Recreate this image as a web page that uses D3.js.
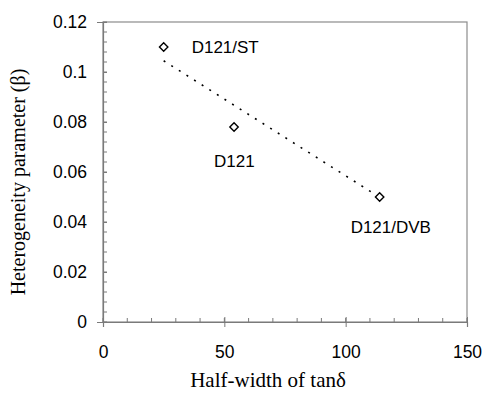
<!DOCTYPE html>
<html>
<head>
<meta charset="utf-8">
<script src="https://cdn.jsdelivr.net/npm/d3@7"></script>
<style>
  body { margin: 0; background: #fff; overflow: hidden; }
  svg { display: block; }
</style>
</head>
<body>
<div id="chart"></div>
<script>
const width = 484;
const height = 396;
const margin = {top: 22, right: 17, bottom: 74, left: 103};
const innerWidth = width - margin.left - margin.right;
const innerHeight = height - margin.top - margin.bottom;

// data
const samples = ["D121/ST", "D121", "D121/DVB"];
const halfWidth = [25, 54, 114];
const beta = [0.110, 0.078, 0.050];
const trendX = [25, 113];
const trendY = [0.1045, 0.0505];
const xTicks = [0, 50, 100, 150];
const yTicks = [0, 0.02, 0.04, 0.06, 0.08, 0.1, 0.12];

const svg = d3.select("#chart")
    .append("svg")
        .attr("width", width)
        .attr("height", height)
    .append("g")
        .attr("transform", "translate(" + margin.left + "," + margin.top + ")");

const xScale = d3.scaleLinear()
    .domain([0, 150])
    .range([0, innerWidth]);

const yScale = d3.scaleLinear()
    .domain([0, 0.12])
    .range([innerHeight, 0]);

const axisColor = "#7a7a7a";

// frame (top and right)
svg.append("rect")
    .attr("x", 0).attr("y", 0)
    .attr("width", innerWidth).attr("height", innerHeight)
    .attr("fill", "none")
    .attr("stroke", "#8c8c8c")
    .attr("stroke-width", 1.2);

// minor ticks, pointing inward
svg.append("g")
    .selectAll("line")
    .data(d3.range(0, 0.1201, 0.004))
    .join("line")
        .attr("x1", 0).attr("x2", 4)
        .attr("y1", d => yScale(d)).attr("y2", d => yScale(d))
        .attr("stroke", axisColor);

svg.append("g")
    .selectAll("line")
    .data(d3.range(0, 151, 10))
    .join("line")
        .attr("x1", d => xScale(d)).attr("x2", d => xScale(d))
        .attr("y1", innerHeight).attr("y2", innerHeight - 4)
        .attr("stroke", axisColor);

// major ticks cross the axis
const xAxis = svg.append("g")
    .attr("transform", "translate(0," + innerHeight + ")")
    .call(d3.axisBottom(xScale)
        .tickValues(xTicks)
        .tickFormat(d3.format("d"))
        .tickSizeOuter(0)
        .tickSize(5)
        .tickPadding(19));

const yAxis = svg.append("g")
    .call(d3.axisLeft(yScale)
        .tickValues(yTicks)
        .tickFormat(d => d === 0 ? "0" : String(+d.toFixed(2)))
        .tickSizeOuter(0)
        .tickSize(6)
        .tickPadding(10));

[xAxis, yAxis].forEach(ax => {
    ax.select(".domain").attr("stroke", axisColor).attr("stroke-width", 1.2);
    ax.selectAll(".tick line").attr("stroke", axisColor);
    ax.selectAll(".tick text")
        .attr("fill", "#000")
        .style("font-family", "Liberation Sans, Arial, sans-serif")
        .style("font-size", "17.5px");
});
xAxis.selectAll(".tick line").attr("y1", -5);
yAxis.selectAll(".tick line").attr("x2", 4);

// dotted trend line
svg.append("path")
    .datum(d3.zip(trendX, trendY))
    .attr("fill", "none")
    .attr("stroke", "#000")
    .attr("stroke-width", 1.6)
    .attr("stroke-dasharray", "2,7")
    .attr("d", d3.line()
        .x(d => xScale(d[0]))
        .y(d => yScale(d[1])));

// diamond markers
const points = d3.zip(samples, halfWidth, beta);
svg.append("g")
    .selectAll("path")
    .data(points)
    .join("path")
        .attr("transform", d => "translate(" + xScale(d[1]) + "," + yScale(d[2]) + ")")
        .attr("d", "M0,-4.2L4.2,0L0,4.2L-4.2,0Z")
        .attr("fill", "#fff")
        .attr("stroke", "#000")
        .attr("stroke-width", 1.4);

// labels
const labelOffset = {"D121/ST": [28, 6], "D121": [-20, 40], "D121/DVB": [-29, 36]};
svg.append("g")
    .selectAll("text")
    .data(points)
    .join("text")
        .attr("x", d => xScale(d[1]) + labelOffset[d[0]][0])
        .attr("y", d => yScale(d[2]) + labelOffset[d[0]][1])
        .style("font-family", "Liberation Sans, Arial, sans-serif")
        .style("font-size", "17px")
        .text(d => d[0]);

// axis titles
svg.append("text")
    .attr("x", innerWidth / 2 - 17)
    .attr("y", innerHeight + 65)
    .attr("text-anchor", "middle")
    .style("font-family", "Liberation Serif, Times New Roman, serif")
    .style("font-size", "21px")
    .text("Half-width of tanδ");

svg.append("text")
    .attr("transform", "translate(" + (-78) + "," + (innerHeight / 2 + 10) + ") rotate(-90)")
    .attr("text-anchor", "middle")
    .style("font-family", "Liberation Serif, Times New Roman, serif")
    .style("font-size", "20px")
    .text("Heterogeneity parameter (β)");
</script>
</body>
</html>
